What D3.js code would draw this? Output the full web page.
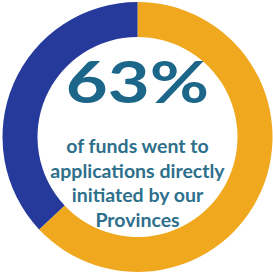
<!DOCTYPE html>
<html><head><meta charset="utf-8">
<script src="https://cdn.jsdelivr.net/npm/d3@7"></script>
<style>html,body{margin:0;padding:0;background:#fff;}svg{display:block;}</style>
</head><body>
<svg id="c" width="273" height="275"></svg>
<script>
const categories = ["Provinces", "Other"];
const values = [63, 37];
const colors = ["#F0A81E", "#263A9C"];
const headline = "63%";
const captionLines = ["of funds went to", "applications directly", "initiated by our", "Provinces"];

const svg = d3.select("#c");
const cx = 137.5, cy = 137, rOuter = 135, rInner = 100;
const g = svg.append("g").attr("transform", `translate(${cx},${cy})`);
const pie = d3.pie().sort(null).value(d => d)(values);
const arc = d3.arc().innerRadius(rInner).outerRadius(rOuter);
g.selectAll("path").data(pie).join("path")
  .attr("d", arc).attr("fill", (d, i) => colors[i]);

g.append("text").text(headline)
  .attr("transform", "translate(0,-34) scale(1.27,1)")
  .attr("text-anchor", "middle")
  .attr("font-family", "Lato, sans-serif").attr("font-weight", 700)
  .attr("font-size", 57).attr("fill", "#1B6689");

g.selectAll("text.cap").data(captionLines).join("text").attr("class", "cap")
  .text(d => d)
  .attr("x", 0).attr("y", (d, i) => 16 + i * 24.7)
  .attr("text-anchor", "middle")
  .attr("font-family", "Lato, sans-serif").attr("font-weight", 700)
  .attr("font-size", 19.5).attr("fill", "#2E6F8C");
</script>
</body></html>
